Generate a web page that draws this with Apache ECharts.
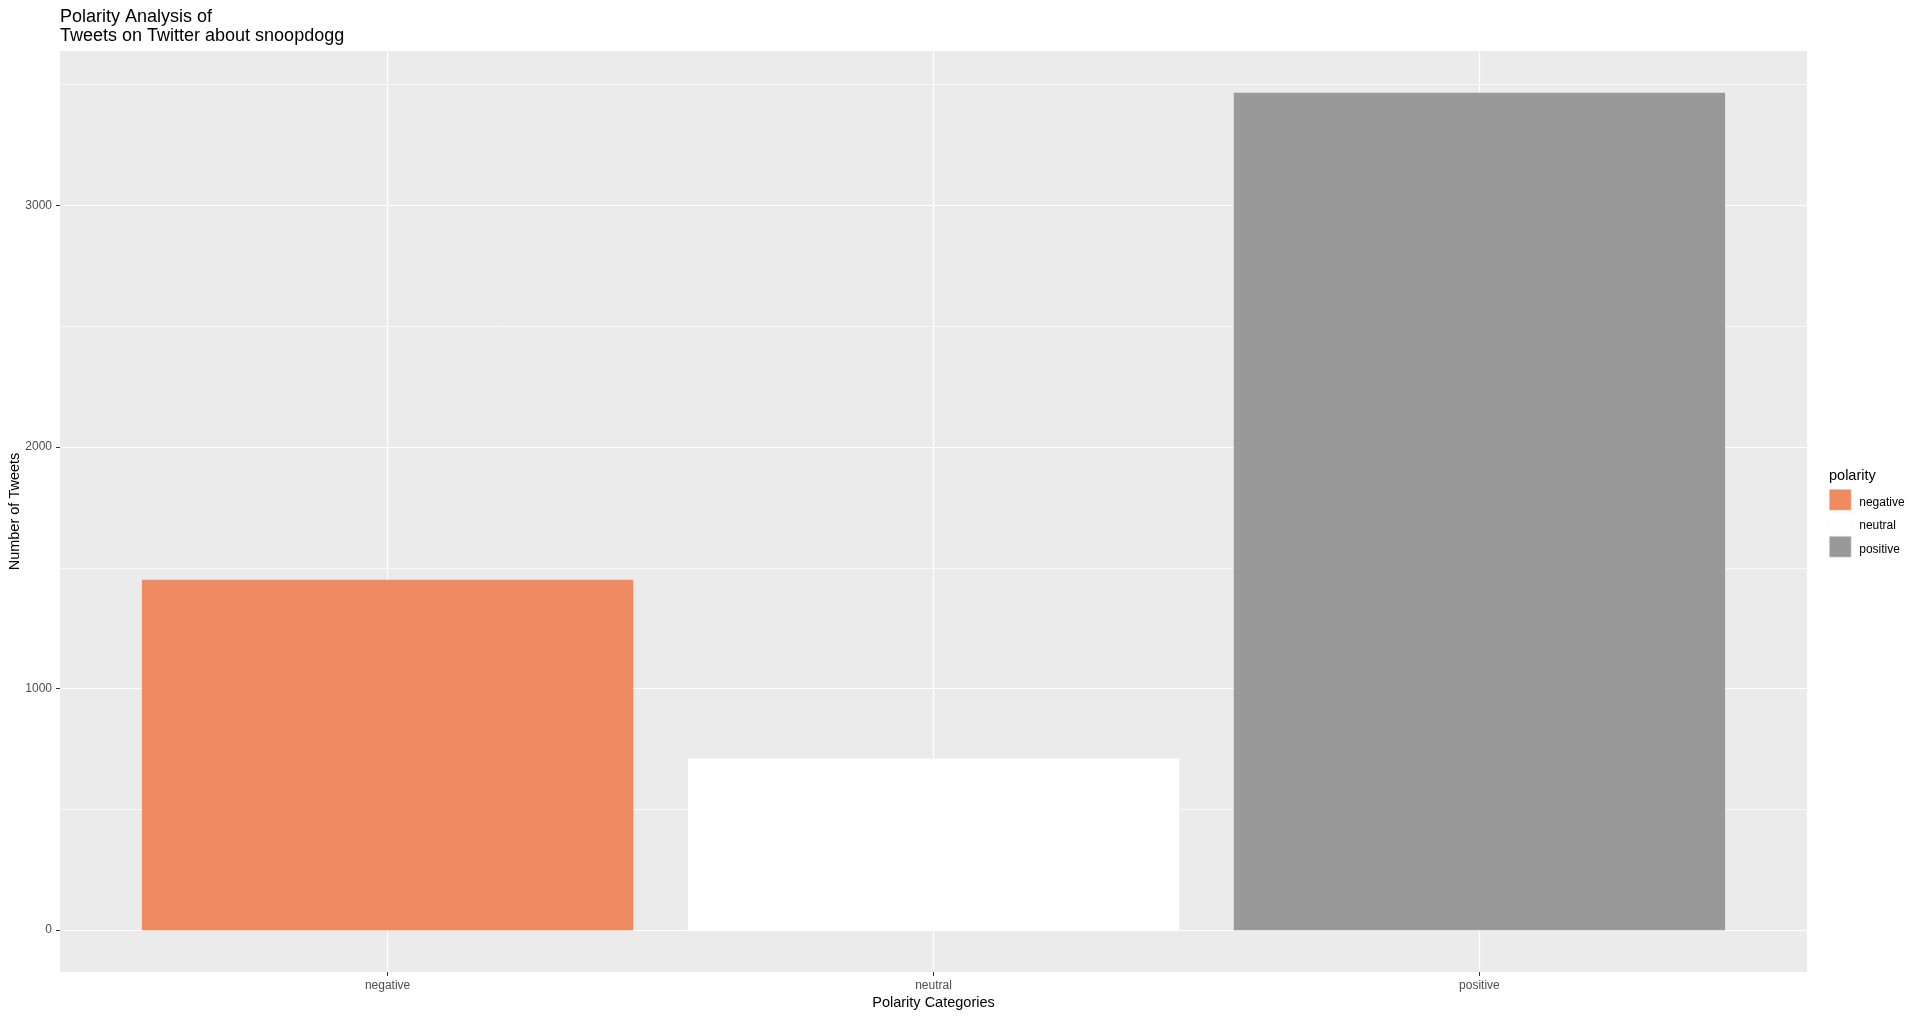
<!DOCTYPE html>
<html>
<head>
<meta charset="utf-8">
<script src="https://cdn.jsdelivr.net/npm/echarts@6/dist/echarts.min.js"></script>
<style>
  html, body { margin: 0; padding: 0; background: #fff; }
  #chart { width: 1920px; height: 1017px; }
</style>
</head>
<body>
<div id="chart"></div>
<script>
// data
const categories = ['negative', 'neutral', 'positive'];
const tweetCounts = [1450, 710, 3466];
const barColors = ['#EF8A62', '#FFFFFF', '#999999'];
const yMajorTicks = [0, 1000, 2000, 3000];
const yMinorTicks = [500, 1500, 2500, 3500];

const FONT = '"Liberation Sans", Arial, sans-serif';

// ggplot style expansion: 5% on continuous axis, 0.6 on discrete axis
const yTop = Math.max(...tweetCounts);
const yMin = -yTop * 0.05;
const yMax = yTop * 1.05;
const xIdx = categories.map((c, i) => i);

const chart = echarts.init(document.getElementById('chart'));

const series = categories.map((name, i) => ({
    name: name,
    type: 'bar',
    stack: 'all',
    barWidth: '90%',
    itemStyle: { color: barColors[i] },
    data: [[xIdx[i], tweetCounts[i]]],
    silent: true
}));

const option = {
    animation: false,
    textStyle: { fontFamily: FONT },
    title: [
        {
            text: 'Polarity Analysis of\nTweets on Twitter about snoopdogg',
            left: 60,
            top: 8,
            padding: 0,
            textStyle: { fontSize: 18, fontWeight: 'normal', color: '#000', lineHeight: 19, fontFamily: FONT }
        },
        {
            text: 'polarity',
            left: 1829,
            top: 468,
            padding: 0,
            textStyle: { fontSize: 14.5, fontWeight: 'normal', color: '#000', fontFamily: FONT }
        }
    ],
    legend: {
        orient: 'vertical',
        left: 1829,
        top: 489,
        padding: 0,
        itemWidth: 22,
        itemHeight: 21,
        itemGap: 2,
        icon: 'rect',
        data: categories,
        formatter: name => '{t|' + name + '}',
        textStyle: {
            fontSize: 12, color: '#000', fontFamily: FONT,
            rich: { t: { fontSize: 12, color: '#000', fontFamily: FONT, padding: [5, 0, 0, 3] } }
        },
        itemStyle: { borderColor: '#F2F2F2', borderWidth: 0.5 }
    },
    grid: {
        left: 60,
        right: 113,
        top: 51,
        bottom: 45,
        outerBoundsMode: 'none',
        containLabel: false,
        show: true,
        backgroundColor: '#EBEBEB',
        borderWidth: 0
    },
    xAxis: {
        type: 'value',
        min: -0.6,
        max: categories.length - 0.4,
        name: 'Polarity Categories',
        nameLocation: 'middle',
        nameGap: 23,
        nameMoveOverlap: false,
        nameTextStyle: { fontSize: 14.5, color: '#000', fontFamily: FONT },
        axisLine: { show: false, onZero: false },
        axisTick: { show: true, length: 4, customValues: xIdx, lineStyle: { color: '#333333' } },
        axisLabel: {
            customValues: xIdx,
            margin: 8,
            fontSize: 12,
            color: '#4D4D4D',
            formatter: v => categories[Math.round(v)]
        },
        splitLine: { show: true, lineStyle: { color: '#FFFFFF', width: 1.2 } }
    },
    yAxis: [
        {
            type: 'value',
            min: yMin,
            max: yMax,
            name: 'Number of Tweets',
            nameLocation: 'middle',
            nameGap: 38,
            nameMoveOverlap: false,
            nameTextStyle: { fontSize: 14.5, color: '#000', fontFamily: FONT },
            axisLine: { show: false, onZero: false },
            axisTick: { show: true, length: 4, customValues: yMajorTicks, lineStyle: { color: '#333333' } },
            axisLabel: { customValues: yMajorTicks, margin: 8, fontSize: 12, color: '#4D4D4D', formatter: v => String(v) },
            splitLine: { show: true, lineStyle: { color: '#FFFFFF', width: 1.2 } },
            z: 1
        },
        {
            type: 'value',
            min: yMin,
            max: yMax,
            position: 'left',
            axisLine: { show: false, onZero: false },
            axisTick: { show: false, customValues: yMinorTicks },
            axisLabel: { show: false, customValues: yMinorTicks },
            splitLine: { show: true, lineStyle: { color: '#FFFFFF', width: 0.7 } },
            z: 1
        }
    ],
    series: series
};

chart.setOption(option);
window.addEventListener('resize', () => chart.resize());
</script>
</body>
</html>
